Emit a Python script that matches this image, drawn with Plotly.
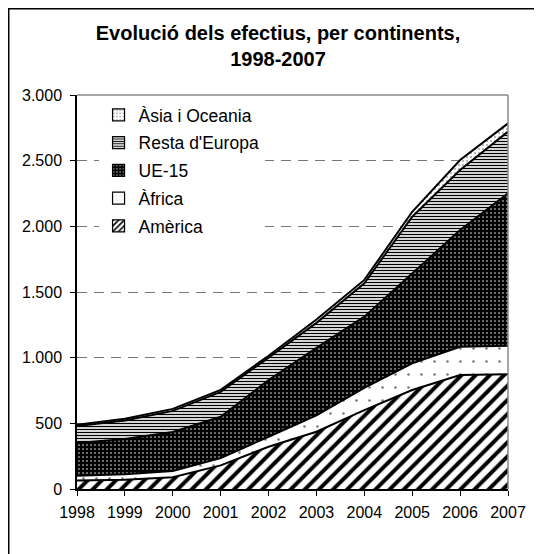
import plotly.graph_objects as go

# data
years = [1998, 1999, 2000, 2001, 2002, 2003, 2004, 2005, 2006, 2007]
america = [65, 70, 90, 180, 322, 436, 600, 754, 868, 873]
africa = [35, 42, 47, 55, 76, 124, 170, 203, 215, 218]
ue15 = [250, 268, 297, 315, 432, 515, 542, 685, 889, 1160]
resta_europa = [130, 142, 161, 190, 170, 190, 254, 431, 457, 470]
asia_oceania = [10, 13, 15, 15, 15, 25, 26, 38, 76, 63]

y_tick_vals = [0, 500, 1000, 1500, 2000, 2500, 3000]
y_tick_labels = ["0", "500", "1.000", "1.500", "2.000", "2.500", "3.000"]

FONT = "Arial, Liberation Sans, sans-serif"

series = [
    ("Amèrica", america, dict(shape="/", fgcolor="black", bgcolor="white", size=10, solidity=0.4)),
    ("Àfrica", africa, dict(shape=".", fgcolor="#777777", bgcolor="white", size=13, solidity=0.03)),
    ("UE-15", ue15, dict(shape=".", fgcolor="white", bgcolor="black", size=4, solidity=0.12)),
    ("Resta d'Europa", resta_europa, dict(shape="-", fgcolor="black", bgcolor="white", size=3, solidity=0.45)),
    ("Àsia i Oceania", asia_oceania, dict(shape=".", fgcolor="#555555", bgcolor="white", size=4, solidity=0.12)),
]

fig = go.Figure()

for name, values, pattern in series:
    fig.add_trace(
        go.Scatter(
            x=years,
            y=values,
            name=name,
            mode="lines",
            stackgroup="one",
            showlegend=False,
            line=dict(color="black", width=2),
            fillcolor="white",
            fillpattern=dict(pattern, fgopacity=1),
        )
    )

# legend entries as small patterned squares, top entry first
for name, values, pattern in reversed(series):
    fig.add_trace(
        go.Bar(
            x=[None],
            y=[None],
            name=name,
            legendgroup="leg " + name,
            marker=dict(
                color="white",
                pattern=dict(pattern, size=min(pattern["size"], 5), fgopacity=1),
                line=dict(color="black", width=1.2),
            ),
        )
    )

# outer frame
fig.add_shape(
    type="rect", xref="paper", yref="paper",
    x0=-0.1584, x1=1.0696, y0=-0.2005, y1=1.2189,
    line=dict(color="black", width=1.5), layer="above",
)
# grey top and right border of plot area
fig.add_shape(
    type="line", xref="paper", yref="paper",
    x0=0, x1=1, y0=1, y1=1,
    line=dict(color="#888888", width=1.5), layer="above",
)
fig.add_shape(
    type="line", xref="paper", yref="paper",
    x0=1, x1=1, y0=0, y1=1,
    line=dict(color="#888888", width=1.5), layer="above",
)

fig.update_layout(
    width=534,
    height=546,
    margin=dict(l=69, r=34, t=87, b=65),
    paper_bgcolor="white",
    plot_bgcolor="white",
    font=dict(family=FONT, size=16, color="black"),
    title=dict(
        text="<b>Evolució dels efectius, per continents,<br>1998-2007</b>",
        x=0.5056, xanchor="center", xref="container",
        y=0.942, yanchor="top", yref="container",
        font=dict(size=20, family=FONT, color="black"),
    ),
    showlegend=True,
    legend=dict(
        x=0.05, y=0.995, xanchor="left", yanchor="top",
        traceorder="grouped",
        tracegroupgap=2,
        bgcolor="white",
        font=dict(size=17.5, family=FONT),
        itemwidth=30,
    ),
    xaxis=dict(
        range=[1998, 2007],
        tickvals=years,
        ticks="outside",
        ticklen=5,
        tickcolor="black",
        ticklabelstandoff=3,
        showline=True,
        linecolor="black",
        linewidth=1.5,
        showgrid=False,
        zeroline=False,
        fixedrange=True,
    ),
    yaxis=dict(
        range=[0, 3000],
        tickvals=y_tick_vals,
        ticktext=y_tick_labels,
        ticks="outside",
        ticklen=5,
        tickcolor="black",
        ticklabelstandoff=5,
        showline=True,
        linecolor="black",
        linewidth=1.5,
        showgrid=True,
        gridcolor="#777777",
        gridwidth=1,
        griddash="10px,7px",
        zeroline=False,
        fixedrange=True,
    ),
)

fig.write_html("out.html")
